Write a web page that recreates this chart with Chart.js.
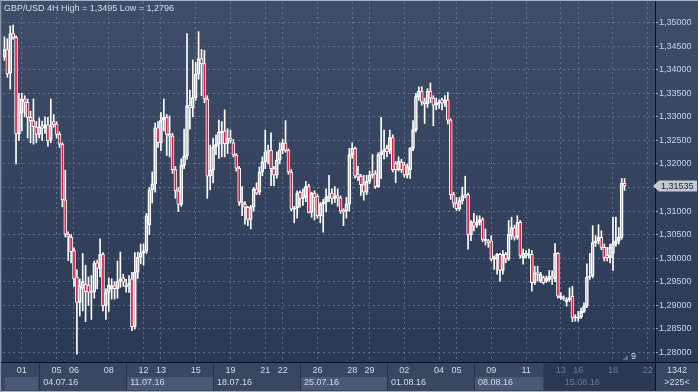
<!DOCTYPE html>
<html>
<head>
<meta charset="utf-8">
<script src="https://cdn.jsdelivr.net/npm/chart.js@4.4.0/dist/chart.umd.min.js"></script>
<style>
  html, body { margin: 0; padding: 0; background: #2f3b55; }
  #wrap { width: 698px; height: 392px; position: relative; }
</style>
</head>
<body>
<div id="wrap"><canvas id="c" width="698" height="392"></canvas></div>
<script>
// GBP/USD 4H candles, 30.06.16 00:00 onwards (one per 4 hours)
const opens = [
  1.3427,1.3443,1.3393,1.3477,1.3469,1.3264,1.3309,1.3338,1.3331,1.3299,
  1.3292,1.3279,1.3263,1.3281,1.3276,1.3283,1.3252,1.3290,1.3285,1.3263,
  1.3242,1.3124,1.3051,1.3045,1.3016,1.2960,1.2906,1.2936,1.2945,1.2943,
  1.2927,1.2929,1.2990,1.2978,1.3008,1.2899,1.2927,1.2935,1.2942,1.2935,
  1.2951,1.2958,1.2939,1.2942,1.2956,1.2855,1.2970,1.3002,1.3011,1.3015,
  1.3071,1.3145,1.3158,1.3277,1.3245,1.3293,1.3299,1.3263,1.3259,1.3188,
  1.3143,1.3114,1.3197,1.3217,1.3324,1.3319,1.3341,1.3391,1.3424,1.3413,
  1.3338,1.3174,1.3187,1.3236,1.3242,1.3266,1.3270,1.3243,1.3255,1.3245,
  1.3219,1.3191,1.3119,1.3115,1.3108,1.3082,1.3108,1.3147,1.3140,1.3183,
  1.3204,1.3229,1.3229,1.3190,1.3176,1.3208,1.3230,1.3245,1.3229,1.3183,
  1.3104,1.3106,1.3140,1.3127,1.3129,1.3152,1.3097,1.3138,1.3132,1.3090,
  1.3115,1.3119,1.3129,1.3138,1.3127,1.3133,1.3128,1.3102,1.3100,1.3115,
  1.3220,1.3233,1.3178,1.3174,1.3156,1.3140,1.3163,1.3176,1.3179,1.3152,
  1.3220,1.3226,1.3233,1.3229,1.3256,1.3201,1.3188,1.3204,1.3198,1.3176,
  1.3188,1.3233,1.3273,1.3343,1.3355,1.3332,1.3328,1.3355,1.3340,1.3325,
  1.3329,1.3336,1.3329,1.3336,1.3293,1.3135,1.3117,1.3105,1.3122,1.3133,
  1.3135,1.3050,1.3077,1.3070,1.3076,1.3082,1.3037,1.3037,1.3037,1.2998,
  1.2998,1.3008,1.2974,1.3008,1.2998,1.3048,1.3065,1.3044,1.3076,1.3001,
  1.3006,1.3006,1.3008,1.2948,1.2969,1.2951,1.2959,1.2951,1.2955,1.2962,
  1.2957,1.3010,1.2916,1.2916,1.2907,1.2912,1.2919,1.2873,1.2872,1.2875,
  1.2887,1.2898,1.2960,1.2962,1.3033,1.3037,1.3044,1.3023,1.3006,1.3001,
  1.3010,1.3031,1.3037,1.3044,1.3159
];
const highs = [
  1.3470,1.3466,1.3493,1.3495,1.3472,1.3350,1.3350,1.3345,1.3338,1.3312,
  1.3338,1.3290,1.3298,1.3291,1.3300,1.3299,1.3338,1.3305,1.3290,1.3268,
  1.3245,1.3187,1.3056,1.3050,1.3022,1.2975,1.2956,1.3010,1.2985,1.2960,
  1.2963,1.2994,1.2996,1.3041,1.3012,1.2935,1.2958,1.2956,1.2950,1.2994,
  1.3013,1.2966,1.2955,1.2963,1.2970,1.3012,1.3013,1.3030,1.3030,1.3095,
  1.3150,1.3183,1.3287,1.3290,1.3309,1.3338,1.3305,1.3302,1.3265,1.3195,
  1.3150,1.3211,1.3274,1.3477,1.3357,1.3421,1.3416,1.3481,1.3443,1.3441,
  1.3345,1.3240,1.3255,1.3262,1.3293,1.3290,1.3315,1.3275,1.3272,1.3252,
  1.3222,1.3195,1.3152,1.3120,1.3110,1.3112,1.3150,1.3160,1.3194,1.3215,
  1.3272,1.3240,1.3266,1.3195,1.3226,1.3245,1.3252,1.3292,1.3232,1.3188,
  1.3110,1.3143,1.3143,1.3147,1.3163,1.3157,1.3140,1.3143,1.3135,1.3118,
  1.3125,1.3147,1.3176,1.3147,1.3152,1.3147,1.3132,1.3105,1.3129,1.3233,
  1.3245,1.3236,1.3195,1.3178,1.3176,1.3176,1.3185,1.3220,1.3186,1.3224,
  1.3299,1.3272,1.3240,1.3272,1.3262,1.3205,1.3215,1.3210,1.3204,1.3200,
  1.3235,1.3292,1.3350,1.3364,1.3364,1.3340,1.3360,1.3372,1.3345,1.3340,
  1.3336,1.3340,1.3345,1.3352,1.3296,1.3140,1.3129,1.3129,1.3151,1.3174,
  1.3138,1.3080,1.3095,1.3090,1.3090,1.3086,1.3062,1.3040,1.3048,1.3005,
  1.3010,1.3010,1.3016,1.3012,1.3080,1.3087,1.3070,1.3090,1.3080,1.3019,
  1.3016,1.3019,1.3016,1.2983,1.2983,1.2970,1.2962,1.2962,1.2974,1.2973,
  1.3031,1.3012,1.2927,1.2920,1.2916,1.2937,1.2940,1.2880,1.2887,1.2894,
  1.2905,1.2988,1.3010,1.3069,1.3048,1.3071,1.3058,1.3030,1.3023,1.3030,
  1.3087,1.3087,1.3065,1.3169,1.3169
];
const lows = [
  1.3420,1.3384,1.3359,1.3465,1.3200,1.3250,1.3270,1.3300,1.3255,1.3245,
  1.3242,1.3245,1.3255,1.3250,1.3265,1.3238,1.3245,1.3278,1.3255,1.3235,
  1.3109,1.3045,1.2995,1.2990,1.2940,1.2796,1.2877,1.2888,1.2865,1.2900,
  1.2870,1.2915,1.2935,1.2960,1.2888,1.2870,1.2887,1.2913,1.2913,1.2915,
  1.2938,1.2940,1.2928,1.2927,1.2846,1.2849,1.2957,1.2988,1.2985,1.3010,
  1.3050,1.3117,1.3140,1.3235,1.3228,1.3270,1.3218,1.3215,1.3180,1.3127,
  1.3099,1.3110,1.3190,1.3210,1.3274,1.3300,1.3335,1.3380,1.3345,1.3330,
  1.3127,1.3145,1.3160,1.3220,1.3212,1.3215,1.3215,1.3222,1.3245,1.3215,
  1.3185,1.3112,1.3090,1.3072,1.3069,1.3062,1.3100,1.3135,1.3135,1.3175,
  1.3190,1.3200,1.3154,1.3154,1.3170,1.3200,1.3222,1.3225,1.3178,1.3100,
  1.3075,1.3085,1.3108,1.3112,1.3120,1.3096,1.3087,1.3081,1.3085,1.3075,
  1.3055,1.3098,1.3120,1.3115,1.3118,1.3110,1.3095,1.3069,1.3085,1.3100,
  1.3212,1.3170,1.3165,1.3133,1.3123,1.3135,1.3158,1.3170,1.3148,1.3150,
  1.3169,1.3210,1.3215,1.3222,1.3183,1.3160,1.3185,1.3182,1.3172,1.3170,
  1.3169,1.3228,1.3268,1.3335,1.3325,1.3286,1.3320,1.3330,1.3281,1.3315,
  1.3318,1.3315,1.3322,1.3285,1.3125,1.3108,1.3101,1.3101,1.3115,1.3128,
  1.3019,1.3037,1.3058,1.3065,1.3070,1.3035,1.3028,1.3023,1.2994,1.2976,
  1.2966,1.2951,1.2966,1.2990,1.2995,1.3040,1.3038,1.3040,1.3000,1.2987,
  1.3000,1.3000,1.2930,1.2944,1.2951,1.2948,1.2945,1.2948,1.2950,1.2944,
  1.2950,1.2915,1.2912,1.2910,1.2898,1.2908,1.2865,1.2866,1.2866,1.2872,
  1.2884,1.2895,1.2955,1.2958,1.3025,1.3030,1.3018,1.2994,1.2994,1.2990,
  1.2974,1.3025,1.3030,1.3040,1.3144
];
const closes = [
  1.3443,1.3391,1.3477,1.3469,1.3264,1.3309,1.3338,1.3331,1.3299,1.3292,
  1.3279,1.3263,1.3279,1.3276,1.3283,1.3249,1.3281,1.3283,1.3263,1.3242,
  1.3124,1.3051,1.3045,1.3014,1.2956,1.2906,1.2942,1.2950,1.2929,1.2927,
  1.2929,1.2989,1.2978,1.3008,1.2899,1.2927,1.2943,1.2942,1.2935,1.2951,
  1.2956,1.2949,1.2942,1.2946,1.2854,1.2970,1.3002,1.3011,1.3015,1.3090,
  1.3145,1.3158,1.3277,1.3245,1.3293,1.3299,1.3263,1.3259,1.3188,1.3143,
  1.3114,1.3197,1.3217,1.3324,1.3319,1.3341,1.3391,1.3424,1.3413,1.3338,
  1.3174,1.3187,1.3236,1.3242,1.3268,1.3270,1.3243,1.3255,1.3250,1.3219,
  1.3191,1.3119,1.3115,1.3108,1.3082,1.3108,1.3147,1.3138,1.3183,1.3204,
  1.3226,1.3226,1.3190,1.3176,1.3208,1.3230,1.3245,1.3229,1.3183,1.3104,
  1.3106,1.3138,1.3127,1.3130,1.3152,1.3097,1.3138,1.3129,1.3090,1.3115,
  1.3119,1.3129,1.3133,1.3127,1.3133,1.3128,1.3100,1.3098,1.3115,1.3220,
  1.3233,1.3174,1.3172,1.3156,1.3140,1.3163,1.3176,1.3179,1.3152,1.3220,
  1.3226,1.3229,1.3226,1.3256,1.3188,1.3188,1.3206,1.3188,1.3176,1.3194,
  1.3233,1.3273,1.3343,1.3355,1.3332,1.3328,1.3355,1.3340,1.3325,1.3329,
  1.3332,1.3329,1.3336,1.3293,1.3135,1.3117,1.3105,1.3122,1.3133,1.3135,
  1.3050,1.3077,1.3068,1.3076,1.3082,1.3040,1.3040,1.3033,1.2998,1.3001,
  1.3008,1.2974,1.3008,1.2998,1.3051,1.3065,1.3044,1.3076,1.3006,1.3010,
  1.3010,1.3008,1.2948,1.2969,1.2966,1.2966,1.2948,1.2957,1.2962,1.2957,
  1.3010,1.2919,1.2919,1.2914,1.2912,1.2916,1.2873,1.2875,1.2875,1.2887,
  1.2898,1.2960,1.2962,1.3033,1.3037,1.3044,1.3023,1.3001,1.3001,1.3023,
  1.3031,1.3037,1.3044,1.3159,1.31535
];

// time axis: 225 bar slots on screen, day / week labels by slot
const slotCount = 225;
const dayTicks = [6, 18, 24, 36, 48, 54, 66, 78, 90, 96, 108, 120, 126, 138, 150, 156, 168, 180, 192, 198, 210, 222];
const dayLabels = ['01', '05', '06', '08', '12', '13', '15', '19', '21', '22', '26', '28', '29', '02', '04', '05', '09', '11', '13', '16', '18', '22'];
const weekTicks = [12, 42, 72, 102, 132, 162, 192];
const weekLabels = ['04.07.16', '11.07.16', '18.07.16', '25.07.16', '01.08.16', '08.08.16', '15.08.16'];
const dimFrom = 186;

const lastPrice = 1.31535;
const yMin = 1.277946, yMax = 1.354396;

const slots = Array.from({ length: slotCount }, (_, i) => String(i));
const bodies = opens.map((o, i) => [o, closes[i]]);
const upperWicks = opens.map((o, i) => [Math.max(o, closes[i]), highs[i]]);
const lowerWicks = opens.map((o, i) => [lows[i], Math.min(o, closes[i])]);

const FONT = '"Liberation Sans", Arial, sans-serif';
const gridColor = 'rgba(110,128,160,0.75)';

const panelPlugin = {
  id: 'panel',
  beforeDraw(chart) {
    const ctx = chart.ctx;
    const g = ctx.createLinearGradient(0, 0, 0, 362);
    g.addColorStop(0, '#3f4d69');
    g.addColorStop(1, '#2c3954');
    ctx.fillStyle = g;
    ctx.fillRect(0, 0, 698, 363);
  },
  afterDraw(chart) {
    const ctx = chart.ctx;
    const xs = chart.scales.x;
    const ys = chart.scales.y;
    const px = i => xs.getPixelForValue(i);
    ctx.save();

    // bottom time panel
    ctx.fillStyle = '#3a4761';
    ctx.fillRect(0, 363, 698, 29);
    ctx.fillStyle = '#4b5975';
    ctx.fillRect(5, 377, px(weekTicks[0]) - 6, 13);
    for (let w = 1; w < weekTicks.length; w += 2) {
      const a = px(weekTicks[w]);
      const b = w + 1 < weekTicks.length ? Math.min(px(weekTicks[w + 1]), px(dimFrom)) : px(dimFrom);
      ctx.fillRect(a + 1, 377, b - a - 1, 13);
    }
    const dimX = px(dimFrom);
    ctx.fillStyle = '#2d3953';
    ctx.fillRect(dimX, 363, 655 - dimX, 29);

    ctx.strokeStyle = '#28334b';
    ctx.lineWidth = 1;
    weekTicks.forEach(t => {
      const x = Math.round(px(t)) + 0.5;
      ctx.beginPath(); ctx.moveTo(x, 363); ctx.lineTo(x, 392); ctx.stroke();
    });

    ctx.beginPath(); ctx.rect(0, 363, 655, 29); ctx.clip();
    ctx.font = '9px ' + FONT;
    ctx.textBaseline = 'middle';
    ctx.textAlign = 'center';
    dayTicks.forEach((t, k) => {
      ctx.fillStyle = t >= dimFrom ? '#6f7c96' : '#d3dbe8';
      ctx.fillText(dayLabels[k], px(t), 371);
    });
    ctx.textAlign = 'left';
    weekTicks.forEach((t, k) => {
      ctx.fillStyle = t >= dimFrom ? '#6f7c96' : '#d3dbe8';
      ctx.fillText(weekLabels[k], px(t) + 4, 383);
    });
    ctx.restore();
    ctx.save();

    // right bottom box
    ctx.fillStyle = '#3a4761';
    ctx.fillRect(656, 363, 42, 29);
    ctx.font = '9px ' + FONT;
    ctx.textBaseline = 'middle';
    ctx.textAlign = 'center';
    ctx.fillStyle = '#d3dbe8';
    ctx.fillText('1342', 677, 371);
    ctx.fillText('>225<', 677, 383);

    // separators and frame
    ctx.fillStyle = '#0d1220';
    ctx.fillRect(655, 0, 1, 392);
    ctx.fillRect(0, 362, 698, 1);
    ctx.fillStyle = '#a7b0c0';
    ctx.fillRect(0, 0, 698, 1);
    ctx.fillRect(0, 391, 698, 1);
    ctx.fillStyle = '#8a95aa';
    ctx.fillRect(0, 0, 1, 392);
    ctx.fillStyle = '#55617a';
    ctx.fillRect(1, 1, 1, 361);

    // title
    ctx.textAlign = 'left';
    ctx.fillStyle = '#d6dde9';
    ctx.fillText('GBP/USD 4H High = 1,3495 Low = 1,2796', 4, 9);

    // last price marker
    const yp = Math.round(ys.getPixelForValue(lastPrice));
    ctx.fillStyle = '#c4c9d2';
    ctx.beginPath();
    ctx.moveTo(653, yp);
    ctx.lineTo(659, yp - 5.5);
    ctx.lineTo(697, yp - 5.5);
    ctx.lineTo(697, yp + 5.5);
    ctx.lineTo(659, yp + 5.5);
    ctx.closePath();
    ctx.fill();
    ctx.fillStyle = '#1c2233';
    ctx.fillText(lastPrice.toFixed(5).replace('.', ','), 661, yp + 0.5);

    // shift marker
    ctx.fillStyle = '#5d6985';
    ctx.beginPath();
    ctx.moveTo(622, 360); ctx.lineTo(628, 360); ctx.lineTo(628, 355);
    ctx.closePath(); ctx.fill();
    ctx.fillStyle = '#d3dbe8';
    ctx.fillText('9', 631, 357);
    ctx.restore();
  }
};

new Chart(document.getElementById('c'), {
  type: 'bar',
  data: {
    labels: slots,
    datasets: [
      {
        label: 'body',
        data: bodies,
        backgroundColor: c => (closes[c.dataIndex] < opens[c.dataIndex] ? '#ea1a3f' : 'rgba(0,0,0,0)'),
        borderColor: '#ffffff',
        borderWidth: 1,
        borderSkipped: false,
        barThickness: 3,
        minBarLength: 1,
        grouped: false,
        order: 0
      },
      {
        label: 'upper',
        data: upperWicks,
        backgroundColor: '#ffffff',
        barThickness: 1,
        grouped: false,
        order: 1
      },
      {
        label: 'lower',
        data: lowerWicks,
        backgroundColor: '#ffffff',
        barThickness: 1,
        grouped: false,
        order: 1
      }
    ]
  },
  options: {
    responsive: false,
    animation: false,
    devicePixelRatio: 1,
    layout: { padding: { left: 3, top: 2, right: 0, bottom: 0 } },
    plugins: { legend: { display: false }, tooltip: { enabled: false } },
    scales: {
      x: {
        type: 'category',
        offset: true,
        grid: {
          offset: false,
          drawTicks: false,
          color: c => (dayTicks.includes(c.index) ? gridColor : 'rgba(0,0,0,0)')
        },
        border: { display: false, dash: [2, 3] },
        ticks: { display: false, autoSkip: false },
        afterFit: s => { s.height = 30; s.paddingLeft = 0; s.paddingRight = 0; }
      },
      y: {
        position: 'right',
        min: yMin,
        max: yMax,
        grid: { color: gridColor, tickColor: '#8fb2dc', tickLength: 3 },
        border: { display: false, dash: [2, 3] },
        ticks: {
          stepSize: 0.005,
          maxTicksLimit: 100,
          includeBounds: false,
          padding: 1,
          color: '#c7d5ea',
          font: { family: FONT, size: 9 },
          callback: v => v.toFixed(5).replace('.', ',')
        },
        afterFit: s => { s.width = 43; s.paddingTop = 0; s.paddingBottom = 0; }
      }
    }
  },
  plugins: [panelPlugin]
});
</script>
</body>
</html>
